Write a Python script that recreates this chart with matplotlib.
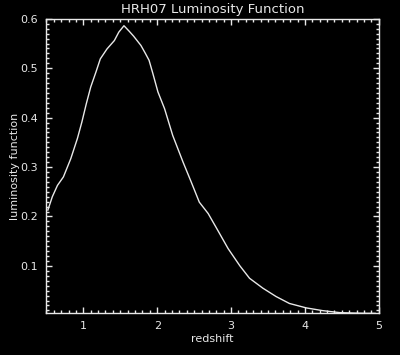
import numpy as np
import matplotlib
matplotlib.use('Agg')
import matplotlib.pyplot as plt
from matplotlib.ticker import MultipleLocator

# values
redshift = [0.52, 0.58, 0.65, 0.73, 0.83, 0.92, 0.98, 1.04, 1.10, 1.17, 1.23,
            1.32, 1.42, 1.48, 1.55, 1.62, 1.68, 1.78, 1.84, 1.89, 1.94, 2.01, 2.10,
            2.21, 2.35, 2.46, 2.57, 2.69, 2.82, 2.96, 3.12, 3.25, 3.43,
            3.61, 3.79, 4.02, 4.24, 4.47, 4.69, 4.85, 4.95]
lum = [0.213, 0.240, 0.263, 0.280, 0.317, 0.358, 0.391, 0.428, 0.462, 0.492, 0.519,
       0.539, 0.556, 0.573, 0.586, 0.575, 0.565, 0.546, 0.530, 0.516, 0.490, 0.452, 0.418,
       0.364, 0.310, 0.270, 0.229, 0.206, 0.172, 0.135, 0.100, 0.075, 0.055,
       0.038, 0.024, 0.015, 0.0095, 0.0055, 0.0045, 0.004, 0.004]

xticks = [1, 2, 3, 4, 5]
yticks = [0.1, 0.2, 0.3, 0.4, 0.5, 0.6]

fg = '#e8e8e8'
plt.rcParams['font.family'] = 'DejaVu Sans'

fig = plt.figure(figsize=(4, 3.55), dpi=100, facecolor='black')
ax = fig.add_axes([0.116, 0.118, 0.831, 0.829], facecolor='black')

ax.plot(redshift, lum, color=fg, lw=1.0)

ax.set_xlim(0.5, 5)
ax.set_ylim(0.0045, 0.6)
ax.set_xticks(xticks)
ax.set_yticks(yticks)
ax.set_xticklabels([str(t) for t in xticks])
ax.set_yticklabels([f'{t:.1f}' for t in yticks])
ax.xaxis.set_minor_locator(MultipleLocator(0.1))
ax.yaxis.set_minor_locator(MultipleLocator(0.01))

ax.tick_params(which='both', direction='in', top=True, right=True,
               colors=fg, labelcolor=fg, labelsize=8, width=1.0)
ax.tick_params(which='major', length=4.5, pad=6)
ax.tick_params(which='minor', length=2.3)
for s in ax.spines.values():
    s.set_color(fg)
    s.set_linewidth(1.0)

ax.set_title('HRH07 Luminosity Function', color=fg, fontsize=9.5, pad=4)
ax.set_xlabel('redshift', color=fg, fontsize=8, labelpad=2)
ax.set_ylabel('luminosity function', color=fg, fontsize=8, labelpad=0)

fig.savefig('out.png', dpi=100, facecolor='black')
